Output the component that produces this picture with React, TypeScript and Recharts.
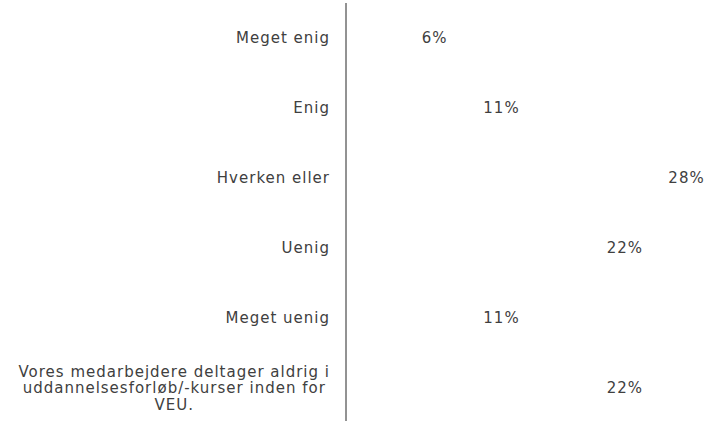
import React from "react";
import { BarChart, Bar, XAxis, YAxis, LabelList } from "recharts";

const categories = [
  "Meget enig",
  "Enig",
  "Hverken eller",
  "Uenig",
  "Meget uenig",
  "Vores medarbejdere deltager aldrig i uddannelsesforløb/-kurser inden for VEU.",
];
// shares of 18 answers
const shares = [5.56, 11.11, 27.78, 22.22, 11.11, 22.22];

const data = categories.map((name, i) => ({ name, value: shares[i] }));

const FONT = "'DejaVu Sans', Verdana, sans-serif";
const FONT_SIZE = 15;
const SPACING = 1;
const TEXT = "#404040";

let ctx: CanvasRenderingContext2D | null = null;
function measure(s: string) {
  if (!ctx) ctx = document.createElement("canvas").getContext("2d");
  if (!ctx) return s.length * 9;
  ctx.font = `${FONT_SIZE}px ${FONT}`;
  return ctx.measureText(s).width + s.length * SPACING;
}

function wrap(s: string, max: number) {
  const words = s.split(" ");
  const lines: string[] = [];
  let cur = "";
  for (const w of words) {
    const next = cur ? cur + " " + w : w;
    if (cur && measure(next) > max) {
      lines.push(cur);
      cur = w;
    } else cur = next;
  }
  if (cur) lines.push(cur);
  return lines;
}

function CategoryTick(props: any) {
  const { x, y, payload } = props;
  const lines = wrap(payload.value, 325);
  const blockW = Math.max(...lines.map(measure));
  const multi = lines.length > 1;
  const lh = 16.5;
  const y0 = y - ((lines.length - 1) * lh) / 2;
  return (
    <g>
      {lines.map((l, i) => (
        <text
          key={i}
          x={multi ? x - blockW / 2 : x}
          y={y0 + i * lh}
          dy="0.35em"
          textAnchor={multi ? "middle" : "end"}
          fill={TEXT}
          fontSize={FONT_SIZE}
          fontFamily={FONT}
          letterSpacing={SPACING}
        >
          {l}
        </text>
      ))}
    </g>
  );
}

function ValueLabel(props: any) {
  const { x, y, width, height, value } = props;
  return (
    <text
      x={x + width + 14}
      y={y + height / 2}
      dy="0.35em"
      textAnchor="start"
      fill={TEXT}
      fontSize={FONT_SIZE}
      fontFamily={FONT}
      letterSpacing={SPACING}
    >
      {Math.round(value)}%
    </text>
  );
}

export default function App() {
  return (
    <div
      style={{
        position: "absolute",
        top: 0,
        left: 0,
        width: 708,
        height: 421,
        overflow: "hidden",
        background: "#fff",
      }}
    >
      <BarChart
        width={708}
        height={425}
        data={data}
        layout="vertical"
        margin={{ top: 3, right: 29, bottom: 2, left: 0 }}
        barCategoryGap="40%"
      >
        <XAxis type="number" domain={[0, 30]} hide />
        <YAxis
          type="category"
          dataKey="name"
          width={346}
          tickLine={false}
          axisLine={{ stroke: "#262626", strokeWidth: 1 }}
          tickMargin={10}
          tick={<CategoryTick />}
          interval={0}
        />
        <Bar dataKey="value" fill="#ffffff" isAnimationActive={false}>
          <LabelList dataKey="value" content={<ValueLabel />} />
        </Bar>
      </BarChart>
    </div>
  );
}
